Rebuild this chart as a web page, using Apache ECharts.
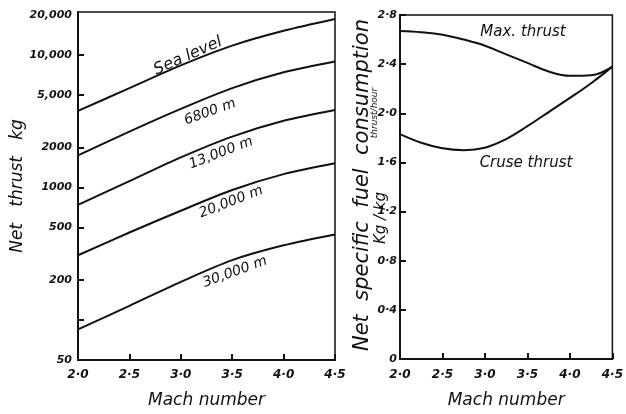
<!DOCTYPE html>
<html><head><meta charset="utf-8">
<script src="https://cdn.jsdelivr.net/npm/echarts@6/dist/echarts.min.js"></script>
<style>html,body{margin:0;padding:0;background:#fff}#c{width:626px;height:414px}</style>
</head><body><div id="c"></div>
<script>
// ---- Left panel: net thrust (kg) vs Mach number, log scale ----
const machLeft = [2.0, 2.5, 3.0, 3.5, 4.0, 4.5];
const thrustSeaLevel = [3775, 5600, 8310, 11710, 15150, 18610];
const thrust6800m   = [1744, 2633, 3905, 5600, 7370, 8900];
const thrust13000m  = [739, 1116, 1685, 2416, 3179, 3839];
const thrust20000m  = [308, 457, 667, 956, 1259, 1520];
const thrust30000m  = [85, 128, 194, 283, 366, 442];
const altitudeNames = ['Sea level', '6800 m', '13,000 m', '20,000 m', '30,000 m'];
const thrustTickLabels = [50, 200, 500, 1000, 2000, 5000, 10000, 20000];
const thrustTickMarks = [100, 200, 500, 1000, 2000, 5000, 10000];

// ---- Right panel: net specific fuel consumption vs Mach number ----
const machRight = [2.0, 2.25, 2.5, 2.75, 3.0, 3.25, 3.5, 3.75, 4.0, 4.25, 4.5];
const sfcMaxThrust    = [2.67, 2.66, 2.64, 2.60, 2.55, 2.48, 2.41, 2.34, 2.305, 2.31, 2.38];
const sfcCruseThrust  = [1.83, 1.76, 1.715, 1.70, 1.72, 1.79, 1.895, 2.01, 2.125, 2.245, 2.38];
const sfcNames = ['Max. thrust', 'Cruse thrust'];

const INK = '#111';
const FONT = 'DejaVu Sans';
const dot = v => String(v).replace('.', '·');
const fmtMach = v => dot(v.toFixed(1));
const fmtThrust = v => v >= 5000 ? v.toLocaleString('en-US') : String(v);
const pairs = (xs, ys) => xs.map((x, i) => [x, ys[i]]);

const chart = echarts.init(document.getElementById('c'), null, {renderer: 'canvas'});

const axisLine = {show: true, lineStyle: {color: INK, width: 2}};
const tickStyle = {inside: true, length: 6, lineStyle: {color: INK, width: 2}};
const lblStyle = {color: INK, fontFamily: FONT, fontStyle: 'italic', fontWeight: 'bold'};

function lineSeries(name, xi, data, smooth) {
  return {
    name, type: 'line', xAxisIndex: xi, yAxisIndex: xi, data,
    smooth, showSymbol: false, silent: true,
    lineStyle: {color: INK, width: 2}
  };
}

const textEl = (text, x, y, deg, size) => ({
  type: 'text', x, y, rotation: deg * Math.PI / 180,
  style: {text, fill: INK, font: 'italic ' + size + 'px "' + FONT + '"', align: 'center', verticalAlign: 'middle'}
});

chart.setOption({
  backgroundColor: '#fff',
  animation: false,
  textStyle: {fontFamily: FONT},
  grid: [
    {left: 78, top: 12, width: 257, height: 352, show: true, borderColor: INK, borderWidth: 1.5},
    {left: 400, top: 15, width: 219, height: 352, show: true, borderColor: INK, borderWidth: 1.5}
  ],
  xAxis: [
    {gridIndex: 0, type: 'value', min: 2, max: 4.5, interval: 0.5,
     name: 'Mach number', nameLocation: 'middle', nameGap: 32,
     nameTextStyle: {color: INK, fontFamily: FONT, fontStyle: 'italic', fontSize: 17},
     axisLine, axisTick: tickStyle, splitLine: {show: false},
     axisLabel: Object.assign({fontSize: 12, margin: 9, formatter: fmtMach}, lblStyle)},
    {gridIndex: 1, type: 'value', min: 2, max: 4.5, interval: 0.5,
     name: 'Mach number', nameLocation: 'middle', nameGap: 33,
     nameTextStyle: {color: INK, fontFamily: FONT, fontStyle: 'italic', fontSize: 17},
     axisLine, axisTick: tickStyle, splitLine: {show: false},
     axisLabel: Object.assign({fontSize: 12, margin: 10, formatter: fmtMach}, lblStyle)}
  ],
  yAxis: [
    {gridIndex: 0, type: 'log', logBase: 10, min: 50, max: 21000,
     name: 'Net   thrust   kg', nameLocation: 'middle', nameGap: 50, nameRotate: 90,
     nameTextStyle: {color: INK, fontFamily: FONT, fontStyle: 'italic', fontSize: 17},
     axisLine, splitLine: {show: false}, minorTick: {show: false},
     axisTick: Object.assign({customValues: thrustTickMarks}, tickStyle),
     axisLabel: Object.assign({fontSize: 11, margin: 6, customValues: thrustTickLabels, formatter: fmtThrust}, lblStyle)},
    {gridIndex: 1, type: 'value', min: 0, max: 2.8, interval: 0.4,
     axisLine, splitLine: {show: false},
     axisTick: tickStyle,
     axisLabel: Object.assign({fontSize: 11, margin: 3, formatter: v => v === 0 ? '0' : dot(v.toFixed(1))}, lblStyle)}
  ],
  series: [
    lineSeries(altitudeNames[0], 0, pairs(machLeft, thrustSeaLevel), 0.3),
    lineSeries(altitudeNames[1], 0, pairs(machLeft, thrust6800m), 0.3),
    lineSeries(altitudeNames[2], 0, pairs(machLeft, thrust13000m), 0.3),
    lineSeries(altitudeNames[3], 0, pairs(machLeft, thrust20000m), 0.3),
    lineSeries(altitudeNames[4], 0, pairs(machLeft, thrust30000m), 0.3),
    lineSeries(sfcNames[0], 1, pairs(machRight, sfcMaxThrust), 0.4),
    lineSeries(sfcNames[1], 1, pairs(machRight, sfcCruseThrust), 0.4)
  ],
  graphic: [
    textEl(altitudeNames[0], 188, 56, 24, 16),
    textEl(altitudeNames[1], 210, 112, 20, 14),
    textEl(altitudeNames[2], 221, 153, 21, 14),
    textEl(altitudeNames[3], 231, 202, 21, 14),
    textEl(altitudeNames[4], 235, 272, 20, 14),
    textEl(sfcNames[0], 523, 32, 0, 15),
    textEl(sfcNames[1], 526, 163, 0, 15),
    textEl('Net  specific  fuel  consumption', 363, 185, 90, 21),
    textEl('Kg / kg', 381, 218, 90, 15),
    textEl('thrust/hour', 375, 113, 90, 9)
  ]
});
</script></body></html>
